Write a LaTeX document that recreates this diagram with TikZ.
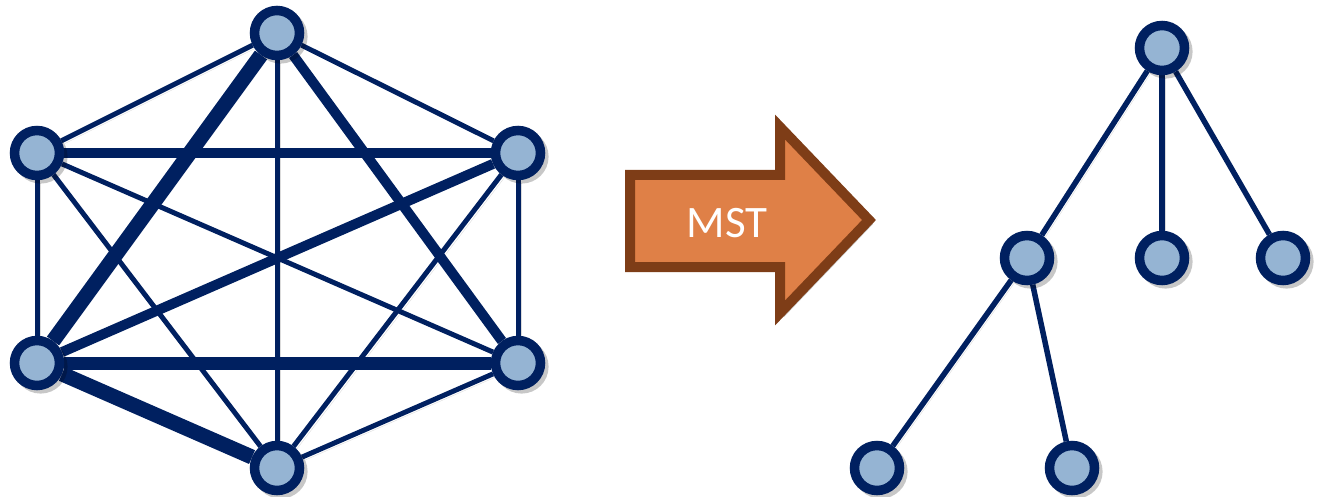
\documentclass[tikz,border=0pt]{standalone}
\usepackage{fontspec}
\setmainfont{Carlito}
\usetikzlibrary{backgrounds,shadows}
\definecolor{navy}{HTML}{002060}
\definecolor{nodefill}{HTML}{95B4D3}
\definecolor{arrowfill}{HTML}{DF8047}
\definecolor{arrowline}{HTML}{7E3D17}
\begin{document}
\begin{tikzpicture}[x=1pt,y=-1pt,
  vert/.style={circle, draw=navy, fill=nodefill, line width=9.5pt,
    minimum size=45pt, inner sep=0pt,
    drop shadow={shadow xshift=3pt, shadow yshift=-3pt, shadow scale=1.2, opacity=.22, fill=black}},
  edge/.style={draw=navy, line cap=butt,
    preaction={draw=black, opacity=.14, transform canvas={xshift=3pt, yshift=-3pt}}},
  edgethin/.style={edge, line width=5pt},
  edgemed/.style={edge, line width=10pt},
  edgestrong/.style={edge, line width=13pt},
  edgeheavy/.style={edge, line width=15pt},
  treeedge/.style={edge, line width=5.5pt},
  mstarrow/.style={fill=arrowfill, draw=arrowline, line width=10pt, line join=miter,
    drop shadow={shadow xshift=4pt, shadow yshift=-4pt, opacity=.22, fill=black}},
]
\useasboundingbox (0,0) rectangle (1321,497);

% complete graph on six vertices
\node[vert] (t)  at (277,33)  {};
\node[vert] (ul) at (37,153)  {};
\node[vert] (ur) at (518,153) {};
\node[vert] (ll) at (37,363)  {};
\node[vert] (lr) at (518,363) {};
\node[vert] (b)  at (277,468) {};

\begin{pgfonlayer}{background}
  \draw[edgethin] (t) -- (ul);
  \draw[edgethin] (t) -- (ur);
  \draw[edgethin] (t) -- (b);
  \draw[edgethin] (ul) -- (ll);
  \draw[edgethin] (ul) -- (lr);
  \draw[edgethin] (ul) -- (b);
  \draw[edgethin] (ur) -- (lr);
  \draw[edgethin] (ur) -- (b);
  \draw[edgethin] (lr) -- (b);
  \draw[edgemed] (ul) -- (ur);
  \draw[edgemed] (ll) -- (ur);
  \draw[edgemed] (t) -- (lr);
  \draw[edgestrong] (ll) -- (lr);
  \draw[edgeheavy] (t) -- (ll);
  \draw[edgeheavy] (ll) -- (b);
\end{pgfonlayer}

% arrow labelled MST
\path[mstarrow] (630,175) -- (780,175) -- (780,127) -- (869,220)
  -- (780,313) -- (780,267) -- (630,267) -- cycle;
\node[text=white, font=\fontsize{45}{45}\selectfont] (mst) at (727,223) {MST};

% minimum spanning tree
\node[vert] (r) at (1162,48)  {};
\node[vert] (a) at (1027,258) {};
\node[vert] (c) at (1162,258) {};
\node[vert] (d) at (1283,258) {};
\node[vert] (e) at (877,468)  {};
\node[vert] (f) at (1072,468) {};

\begin{pgfonlayer}{background}
  \draw[treeedge] (r) -- (a);
  \draw[treeedge] (r) -- (c);
  \draw[treeedge] (r) -- (d);
  \draw[treeedge] (a) -- (e);
  \draw[treeedge] (a) -- (f);
\end{pgfonlayer}
\end{tikzpicture}
\end{document}
